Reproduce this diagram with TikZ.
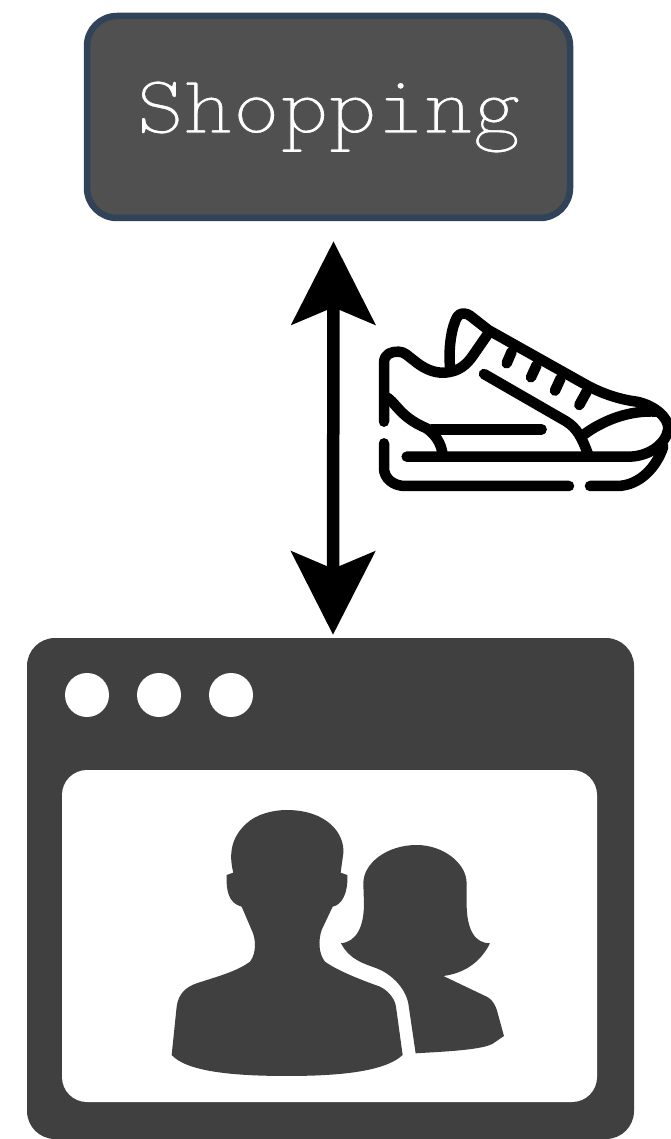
\documentclass[tikz,border=0pt]{standalone}
\usepackage{fontspec}
\usetikzlibrary{arrows.meta}
\newfontfamily\shopfont{Latin Modern Mono Light}
\definecolor{boxfill}{HTML}{505050}
\definecolor{boxline}{HTML}{314358}
\definecolor{icon}{HTML}{404040}
\tikzset{
  shopbox/.style={draw=boxline,fill=boxfill,line width=6.5pt,rounded corners=30pt,minimum width=483pt,minimum height=202pt,inner sep=0pt,text=white},
  winbox/.style={fill=icon,rounded corners=28pt,minimum width=607pt,minimum height=501pt,inner sep=0pt},
  winpane/.style={fill=white,rounded corners=25pt,minimum width=535pt,minimum height=332pt,inner sep=0pt},
  windot/.style={circle,fill=white,minimum size=44pt,inner sep=0pt},
  biarrow/.style={line width=12.5pt,{Stealth[length=83pt,width=83pt,inset=17pt]}-{Stealth[length=83pt,width=83pt,inset=17pt]}},
  shoeline/.style={line width=10.5pt,line cap=round,line join=round,draw=black},
  personfill/.style={fill=icon,draw=none}
}
\begin{document}
\begin{tikzpicture}[x=1pt,y=-1pt]
\useasboundingbox (0,0) rectangle (671,1139);
\node[shopbox] (shop) at (328.5,117) {\fontsize{84}{84}\shopfont\selectfont\scalebox{1.09}[1]{\special{pdf:code q 2 Tr 0.9 w 0.314 0.314 0.314 RG}Shopping\special{pdf:code Q}}};
\node[winbox] (win) at (330.5,888.5) {};
\node[winpane] (pane) at (329.5,936) {};
\node[windot] (d1) at (87,695) {};
\node[windot] (d2) at (159,695) {};
\node[windot] (d3) at (231,695) {};
\draw[biarrow,shorten <=20pt,shorten >=3pt] ([xshift=5pt]shop.south) -- ([xshift=2.5pt]win.north);
% people
\begin{scope}[shift={(150,790)},x=0.3333pt,y=-0.3333pt]
\path[personfill] (65,795) -- (80,650) .. controls (85,610) and (110,590) .. (140,580)
 .. controls (200,560) and (260,545) .. (300,515) .. controls (320,490) and (318,445) .. (305,420)
 -- (275,350) .. controls (235,340) and (228,300) .. (230,255) -- (250,248)
 .. controls (235,190) and (245,140) .. (290,100) .. controls (320,72) and (370,60) .. (410,60)
 .. controls (530,60) and (585,130) .. (580,190) -- (572,248) -- (592,255)
 .. controls (595,310) and (575,345) .. (548,350) -- (515,420)
 .. controls (505,450) and (505,490) .. (525,515) .. controls (560,540) and (620,565) .. (690,590)
 .. controls (720,605) and (735,630) .. (738,650) -- (758,795)
 .. controls (700,850) and (540,858) .. (410,858) .. controls (250,858) and (110,845) .. (65,795) -- cycle;
\path[personfill] (573,460) .. controls (620,455) and (642,410) .. (642,340) -- (640,280)
 .. controls (640,220) and (710,165) .. (800,165) .. controls (880,165) and (950,220) .. (950,280)
 -- (950,340) .. controls (950,420) and (975,460) .. (1020,460)
 .. controls (990,520) and (940,550) .. (880,558) -- (1010,620) .. controls (1030,630) and (1038,650) .. (1042,665)
 -- (1062,738) -- (1030,760) .. controls (1000,780) and (880,785) .. (797,790) -- (775,640)
 .. controls (765,590) and (720,550) .. (680,535) .. controls (640,520) and (600,510) .. (573,460) -- cycle;
\end{scope}
% shoe
\begin{scope}[shift={(370,300)},x=0.3333pt,y=-0.3333pt]
\draw[shoeline] (42,365) -- (42,190) .. controls (42,160) and (65,155) .. (85,155)
 .. controls (105,155) and (115,170) .. (130,180) .. controls (160,205) and (190,220) .. (225,218)
 .. controls (265,215) and (290,195) .. (310,165) -- (355,100);
\draw[shoeline] (240,200) .. controls (235,140) and (245,80) .. (262,50) .. controls (272,35) and (290,40) .. (300,47)
 -- (355,90) -- (640,250) .. controls (700,285) and (760,300) .. (800,305)
 .. controls (850,315) and (895,350) .. (895,385) .. controls (890,430) and (840,468) .. (780,470) -- (110,470);
\draw[shoeline] (42,430) -- (42,505) .. controls (42,535) and (70,558) .. (105,558) -- (597,558);
\draw[shoeline] (660,558) -- (740,558) .. controls (810,558) and (860,500) .. (880,440);
\draw[shoeline] (640,405) .. controls (700,360) and (780,330) .. (860,335);
\draw[shoeline] (342,222) -- (590,365) .. controls (620,385) and (635,410) .. (655,465);
\draw[shoeline] (410,190) -- (425,155);
\draw[shoeline] (483,232) -- (500,195);
\draw[shoeline] (555,272) -- (572,235);
\draw[shoeline] (628,315) -- (650,275);
\draw[shoeline] (45,290) .. controls (75,300) and (85,350) .. (170,385) .. controls (205,410) and (215,440) .. (218,465);
\draw[shoeline] (185,388) -- (515,388);
\end{scope}
\end{tikzpicture}
\end{document}
